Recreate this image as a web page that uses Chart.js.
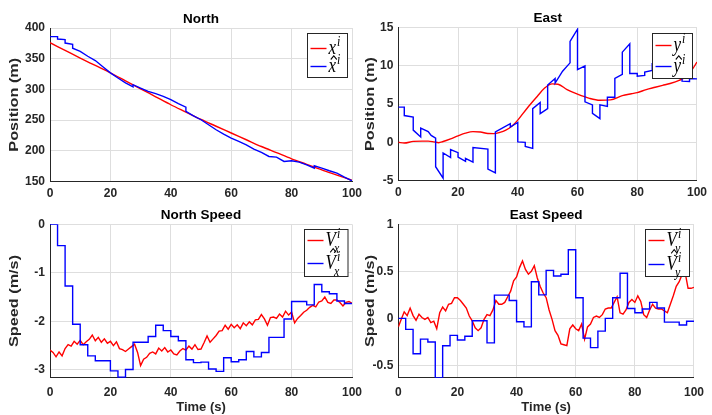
<!DOCTYPE html>
<html>
<head>
<meta charset="utf-8">
<title>North / East position and speed</title>
<script src="https://cdn.jsdelivr.net/npm/chart.js@4.4.1/dist/chart.umd.min.js"></script>
<style>
  html, body { margin: 0; padding: 0; background: #fff; }
  #fig { position: relative; width: 712px; height: 415px; overflow: hidden; }
  #fig canvas { position: absolute; }
</style>
</head>
<body>
<div id="fig">
  <canvas id="cNorth" width="372" height="205" style="left:0;top:0"></canvas>
  <canvas id="cEast" width="356" height="205" style="left:356px;top:0"></canvas>
  <canvas id="cNorthSpeed" width="372" height="215" style="left:0;top:200px"></canvas>
  <canvas id="cEastSpeed" width="356" height="215" style="left:356px;top:200px"></canvas>
</div>
<script>
// ---- data ----
const timeTicks = [0, 20, 40, 60, 80, 100];

// North position
const northTrueT = [0, 5, 10, 15, 20, 25, 30, 35, 40, 45, 50, 55, 60, 65, 70, 75, 80, 85, 90, 95, 100];
const northTrue = [376, 363.5, 351, 339, 327, 314, 301, 288, 275, 263, 251, 240, 229, 218, 207, 197, 187, 178, 169, 160.5, 152];
const northEstT = [0, 2.5, 2.5, 5, 5, 7.5, 7.5, 10, 12.5, 15, 17.5, 20, 22.5, 25, 27.5, 27.5, 30, 32.5, 35, 37.5, 40, 42.5,
  45, 45, 47.5, 50, 52.5, 55, 57.5, 60, 62.5, 65, 67.5, 70, 72.5, 75, 77.5, 80, 82.5, 85, 87.5, 87.5, 90, 92.5, 95, 97.5, 100];
const northEst = [386, 386, 382, 381, 375.5, 373.4, 367, 362, 354, 347, 337, 327, 318.5, 310.5, 304, 307.6, 302, 296.8, 293, 288.6, 283.2, 276.7,
  271.2, 264.2, 257, 250.6, 242.4, 234.3, 227.2, 220.7, 215.3, 209.8, 202.8, 197.3, 190.8, 189.7, 182.7, 183.8, 181.6, 177.2, 171.8, 175.6, 171.8, 167.5, 163.7, 157.1, 151.2];

// East position
const eastTrueT = [0, 2, 5, 8, 10, 12, 13.5, 15, 17.5, 20, 22.5, 25, 27.5, 30, 32, 34, 36, 38, 40, 43,
  46.5, 49, 51.5, 53.5, 56.5, 60, 64, 67.5, 71, 75, 78, 80, 83, 86, 88.5, 91, 94, 96, 98, 100];
const eastTrue = [0, -0.1, 0.12, 0.15, 0.15, 0.05, -0.05, 0.1, 0.45, 0.85, 1.2, 1.4, 1.35, 1.15, 1.13, 1.3, 1.6, 2.1, 2.9, 4.4,
  6.0, 7.1, 7.65, 7.6, 6.9, 6.3, 5.75, 5.5, 5.55, 6.1, 6.35, 6.5, 6.9, 7.2, 7.45, 7.7, 8.1, 8.5, 9.3, 10.5];
const eastEstT = [0, 2, 2, 5, 5, 7.5, 7.5, 10, 11, 12.5, 12.5, 15, 15, 17.5, 17.5, 20, 20, 22.5, 22.5, 25,
  25, 30, 30, 32.5, 32.5, 37.5, 37.5, 40, 40, 42.5, 42.5, 45, 45, 47.5, 47.5, 50, 50, 52.5, 52.5, 55,
  57.5, 57.5, 60, 60, 62.5, 62.5, 65, 65, 67.5, 67.5, 70, 70, 72.5, 72.5, 75, 75, 77.5, 77.5, 80, 80,
  82.5, 82.5, 85, 85, 87.5, 87.5, 90, 92.5, 95, 95, 97.5, 97.5, 100];
const eastEst = [4.6, 4.6, 3.5, 3.3, 1.6, 0.7, 1.85, 1.4, 0.9, 0.55, -3.2, -4.7, -1.4, -2.0, -0.95, -1.35, -1.95, -2.5, -2.1, -2.6,
  -0.7, -0.9, -3.5, -4.0, 1.35, 2.45, 2.0, 2.6, 0.05, 0.0, -0.55, -0.8, 4.4, 5.2, 3.75, 4.4, 7.5, 8.35, 7.75, 9.3,
  10.4, 13.2, 14.8, 9.5, 10.0, 5.3, 4.9, 3.8, 3.1, 4.9, 4.7, 5.9, 5.9, 8.35, 8.9, 11.8, 12.9, 9.0, 9.0, 8.65,
  8.75, 9.2, 9.4, 10.3, 10.3, 9.0, 8.8, 8.6, 8.35, 8.0, 7.95, 8.35, 8.3];

// speeds: true speed every second, estimate held for 2.5 s
const secT = [0, 1, 2, 3, 4, 5, 6, 7, 8, 9, 10, 11, 12, 13, 14, 15, 16, 17, 18, 19, 20, 21, 22, 23, 24, 25,
  26, 27, 28, 29, 30, 31, 32, 33, 34, 35, 36, 37, 38, 39, 40, 41, 42, 43, 44, 45, 46, 47, 48, 49, 50,
  51, 52, 53, 54, 55, 56, 57, 58, 59, 60, 61, 62, 63, 64, 65, 66, 67, 68, 69, 70, 71, 72, 73, 74, 75,
  76, 77, 78, 79, 80, 81, 82, 83, 84, 85, 86, 87, 88, 89, 90, 91, 92, 93, 94, 95, 96, 97, 98, 99, 100];
const stepT = [0, 2.5, 5, 7.5, 10, 12.5, 15, 17.5, 20, 22.5, 25, 27.5, 30, 32.5, 35, 37.5, 40, 42.5, 45, 47.5,
  50, 52.5, 55, 57.5, 60, 62.5, 65, 67.5, 70, 72.5, 75, 77.5, 80, 82.5, 85, 87.5, 90, 92.5, 95, 97.5, 100];

const northSpeedTrue = [
  -2.59, -2.64, -2.73, -2.63, -2.71, -2.56, -2.48, -2.51, -2.41, -2.47,
  -2.39, -2.48, -2.42, -2.37, -2.28, -2.40, -2.33, -2.43, -2.36, -2.45,
  -2.41, -2.50, -2.42, -2.56, -2.58, -2.62, -2.57, -2.52, -2.47, -2.64,
  -2.91, -2.78, -2.74, -2.66, -2.63, -2.67, -2.55, -2.61, -2.54, -2.63,
  -2.59, -2.67, -2.69, -2.61, -2.56, -2.59, -2.51, -2.57, -2.48, -2.58,
  -2.57, -2.44, -2.30, -2.43, -2.36, -2.29, -2.20, -2.19, -2.08, -2.16,
  -2.06, -2.13, -2.07, -2.15, -2.03, -2.09, -2.01, -2.07, -1.97, -1.96,
  -1.86, -1.95, -2.08, -1.92, -1.91, -1.94, -1.85, -1.91, -1.79, -1.87,
  -1.81, -2.03, -1.94, -1.88, -1.81, -1.77, -1.71, -1.67, -1.70, -1.60,
  -1.58, -1.50, -1.61, -1.63, -1.56, -1.56, -1.61, -1.68, -1.61, -1.59,
  -1.63];
const northSpeedEst = [0, -0.44, -1.27, -2.06, -2.48, -2.71, -2.81, -2.81, -3.02, -3.15, -2.99, -2.43, -2.43, -2.31, -2.08, -2.19,
  -2.31, -2.40, -2.79, -2.85, -2.84, -2.98, -3.03, -2.75, -2.83, -2.79, -2.62, -2.73, -2.64, -2.33, -2.33, -1.95,
  -1.59, -1.59, -1.66, -1.24, -1.39, -1.43, -1.58, -1.63, -1.63];

const eastSpeedTrue = [
  -0.09, -0.01, 0.07, 0.03, 0.11, 0.03, -0.02, 0.045, 0.01, -0.01,
  0.01, -0.045, -0.03, -0.11, 0.06, 0.12, 0.08, 0.15, 0.16, 0.22,
  0.22, 0.19, 0.15, 0.11, 0.025, -0.025, -0.10, -0.13, -0.10, -0.01,
  0.04, 0.03, 0.09, 0.19, 0.15, 0.15, 0.17, 0.23, 0.29, 0.40,
  0.44, 0.54, 0.61, 0.52, 0.47, 0.50, 0.56, 0.43, 0.34, 0.27,
  0.22, 0.09, -0.01, -0.13, -0.18, -0.27, -0.28, -0.29, -0.11, -0.07,
  -0.11, -0.13, -0.06, -0.22, -0.09, -0.06, 0.01, 0.025, 0.01, 0.04,
  0.10, 0.11, 0.11, 0.17, 0.23, 0.06, 0.045, 0.09, 0.17, 0.20,
  0.17, 0.24, 0.18, 0.04, 0.01, 0.09, 0.15, 0.11, 0.10, 0.10,
  0.08, 0.06, 0.15, 0.24, 0.34, 0.39, 0.47, 0.49, 0.32, 0.32,
  0.33];
const eastSpeedEst = [0, -0.117, -0.375, -0.22, -0.25, -0.63, -0.29, -0.18, -0.23, -0.19, -0.025, -0.025, -0.26, 0.247, 0.247, 0.19,
  -0.035, -0.09, 0.39, 0.25, 0.51, 0.45, 0.47, 0.73, 0.22, -0.21, -0.31, -0.135, 0.0, 0.22, 0.48, 0.105,
  0.06, 0.1, 0.17, 0.11, -0.04, -0.04, -0.07, -0.03, -0.03];

// ---- styling ----
const RED = '#ff0000';
const BLUE = '#0000ff';
const INK = '#262626';
const GRID = '#dedede';
const SANS = '"Liberation Sans", Arial, Helvetica, sans-serif';
const SERIF = '"Liberation Serif", "Times New Roman", serif';

const xy = (xs, ys) => xs.map((x, i) => ({ x, y: ys[i] }));

// legend symbols drawn like the LaTeX labels (x^i, \hat{x}^i, V_x^i ...)
function drawSymbol(ctx, s, x, y) {
  ctx.save();
  ctx.translate(x, y);
  ctx.scale(1, 1.2);
  ctx.fillStyle = '#000';
  ctx.textAlign = 'left';
  ctx.textBaseline = 'alphabetic';
  ctx.font = 'italic 17px ' + SERIF;
  ctx.fillText(s.base, 0, 0);
  const w = ctx.measureText(s.base).width;
  if (s.hat) {
    const cap = s.base === 'V';
    const cx = w / 2 + (cap ? 2.5 : 1.5);
    const top = cap ? -13.5 : -10;
    ctx.strokeStyle = '#000';
    ctx.lineWidth = 1;
    ctx.beginPath();
    ctx.moveTo(cx - 3, top);
    ctx.lineTo(cx, top - 3);
    ctx.lineTo(cx + 3, top);
    ctx.stroke();
  }
  ctx.font = 'italic 12px ' + SERIF;
  ctx.fillText('i', w + 1, -6.5);
  if (s.sub) ctx.fillText(s.sub, w - 2, 6);
  ctx.restore();
}

const figDecor = {
  id: 'figDecor',
  afterDraw(chart, args, o) {
    const { ctx, chartArea: a } = chart;
    ctx.save();
    // title
    ctx.fillStyle = '#000';
    ctx.font = 'bold 13.5px ' + SANS;
    ctx.textAlign = 'center';
    ctx.textBaseline = 'alphabetic';
    ctx.fillText(o.title, (a.left + a.right) / 2, a.top - 5.5);
    // y label, stretched along its length as in the source figure
    ctx.save();
    ctx.translate(14.5, (a.top + a.bottom) / 2);
    ctx.rotate(-Math.PI / 2);
    ctx.scale(1.3, 1);
    ctx.fillStyle = INK;
    ctx.font = 'bold 12.5px ' + SANS;
    ctx.textBaseline = 'middle';
    ctx.fillText(o.yTitle, 0, 0);
    ctx.restore();
    // legend box
    const L = o.legend;
    const bx = Math.round(a.right - 5 - L.w) + 0.5;
    const by = Math.round(a.top + 5) + 0.5;
    ctx.fillStyle = '#fff';
    ctx.fillRect(bx, by, L.w, L.h);
    ctx.strokeStyle = INK;
    ctx.lineWidth = 1;
    ctx.strokeRect(bx, by, L.w, L.h);
    chart.data.datasets.forEach((ds, i) => {
      const y = by + L.rows[i];
      ctx.strokeStyle = ds.borderColor;
      ctx.lineWidth = 1.4;
      ctx.beginPath();
      ctx.moveTo(bx + 3, y);
      ctx.lineTo(bx + 19, y);
      ctx.stroke();
      drawSymbol(ctx, L.syms[i], bx + 21, y + 5);
    });
    ctx.restore();
  }
};

function figure(id, o) {
  return new Chart(document.getElementById(id), {
    type: 'line',
    data: { datasets: o.datasets },
    options: {
      responsive: false,
      animation: false,
      events: [],
      layout: { padding: { left: 0, top: o.padTop, right: o.padRight, bottom: 0 } },
      elements: { point: { radius: 0 }, line: { borderWidth: 1.4 } },
      plugins: {
        legend: { display: false },
        tooltip: { enabled: false },
        figDecor: { title: o.title, yTitle: o.yTitle, legend: o.legend }
      },
      scales: {
        x: {
          type: 'linear', min: 0, max: 100,
          afterBuildTicks: s => { s.ticks = timeTicks.map(v => ({ value: v })); },
          ticks: { font: { family: SANS, size: 12, weight: 'bold' }, color: INK, padding: o.xPad, maxRotation: 0 },
          grid: { color: GRID, drawTicks: false },
          border: { color: INK },
          title: o.xTitle
            ? { display: true, text: o.xTitle, color: INK, font: { family: SANS, size: 13, weight: 'bold' }, padding: 0 }
            : { display: false },
          afterFit: s => { s.height = o.xH; }
        },
        y: {
          type: 'linear', min: o.yMin, max: o.yMax,
          afterBuildTicks: s => { s.ticks = o.yTicks.map(v => ({ value: v })); },
          ticks: { font: { family: SANS, size: 12, weight: 'bold' }, color: INK, padding: 5, callback: v => String(v) },
          grid: { color: GRID, drawTicks: false },
          border: { color: INK },
          title: { display: false },
          afterFit: s => { s.width = o.yW; }
        }
      }
    },
    plugins: [figDecor]
  });
}

figure('cNorth', {
  title: 'North', yTitle: 'Position (m)', yMin: 150, yMax: 400, yTicks: [150, 200, 250, 300, 350, 400],
  padTop: 28, padRight: 20, yW: 50, xH: 23.5, xPad: 5,
  datasets: [
    { data: xy(northTrueT, northTrue), borderColor: RED, cubicInterpolationMode: 'monotone', order: 1 },
    { data: xy(northEstT, northEst), borderColor: BLUE, tension: 0, order: 0 }
  ],
  legend: { w: 40, h: 44, rows: [15, 33], syms: [{ base: 'x' }, { base: 'x', hat: true }] }
});

figure('cEast', {
  title: 'East', yTitle: 'Position (m)', yMin: -5, yMax: 15, yTicks: [-5, 0, 5, 10, 15],
  padTop: 27.7, padRight: 11, yW: 42.3, xH: 24.5, xPad: 5,
  datasets: [
    { data: xy(eastTrueT, eastTrue), borderColor: RED, cubicInterpolationMode: 'monotone', order: 1 },
    { data: xy(eastEstT, eastEst), borderColor: BLUE, tension: 0, order: 0 }
  ],
  legend: { w: 40, h: 45, rows: [12, 33], syms: [{ base: 'y' }, { base: 'y', hat: true }] }
});

figure('cNorthSpeed', {
  title: 'North Speed', yTitle: 'Speed (m/s)', xTitle: 'Time (s)', yMin: -3.16, yMax: 0, yTicks: [-3, -2, -1, 0],
  padTop: 24.3, padRight: 20, yW: 50, xH: 37.3, xPad: 8,
  datasets: [
    { data: xy(secT, northSpeedTrue), borderColor: RED, tension: 0, order: 1 },
    { data: xy(stepT, northSpeedEst), borderColor: BLUE, stepped: true, order: 0 }
  ],
  legend: { w: 43.5, h: 47, rows: [11, 34], syms: [{ base: 'V', sub: 'x' }, { base: 'V', sub: 'x', hat: true }] }
});

figure('cEastSpeed', {
  title: 'East Speed', yTitle: 'Speed (m/s)', xTitle: 'Time (s)', yMin: -0.63, yMax: 1, yTicks: [-0.5, 0, 0.5, 1],
  padTop: 24.3, padRight: 11, yW: 42.3, xH: 37.3, xPad: 8,
  datasets: [
    { data: xy(secT, eastSpeedTrue), borderColor: RED, tension: 0, order: 1 },
    { data: xy(stepT, eastSpeedEst), borderColor: BLUE, stepped: true, order: 0 }
  ],
  legend: { w: 44, h: 47, rows: [11, 35], syms: [{ base: 'V', sub: 'y' }, { base: 'V', sub: 'y', hat: true }] }
});
</script>
</body>
</html>
